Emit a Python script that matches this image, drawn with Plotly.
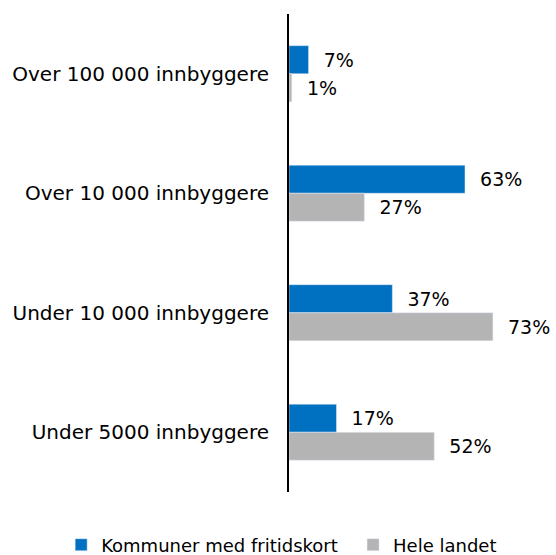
import plotly.graph_objects as go

categories = ["Over 100 000 innbyggere", "Over 10 000 innbyggere",
              "Under 10 000 innbyggere", "Under 5000 innbyggere"]
fritidskort = [7, 63, 37, 17]
hele_landet = [1, 27, 73, 52]

FONT = "DejaVu Sans"
fig = go.Figure()
fig.add_trace(go.Bar(
    y=categories, x=fritidskort, orientation="h", name="Kommuner med fritidskort",
    marker=dict(color="#0070C0"), legend="legend",
    texttemplate="\u00a0\u00a0%{x}%", textposition="outside",
    textfont=dict(family=FONT, size=19, color="#000000"), cliponaxis=False,
))
fig.add_trace(go.Bar(
    y=categories, x=hele_landet, orientation="h", name="Hele landet",
    marker=dict(color="#B4B4B5"), legend="legend2",
    texttemplate="\u00a0\u00a0%{x}%", textposition="outside",
    textfont=dict(family=FONT, size=19, color="#000000"), cliponaxis=False,
))
leg_common = dict(orientation="h", xref="container", yref="container",
                  xanchor="left", y=0.018, yanchor="middle",
                  font=dict(family=FONT, size=18), itemwidth=30,
                  bgcolor="rgba(0,0,0,0)")
fig.update_layout(
    width=556, height=555,
    margin=dict(l=289, r=10, t=14, b=63, autoexpand=False),
    barmode="group", bargap=0.53, bargroupgap=0,
    plot_bgcolor="white", paper_bgcolor="white",
    font=dict(family=FONT, size=20, color="#000000"),
    showlegend=True,
    legend=dict(x=0.11, **leg_common),
    legend2=dict(x=0.635, **leg_common),
)
fig.update_xaxes(range=[0, 92], showgrid=False, showticklabels=False, zeroline=False,
                 showline=False, automargin=False)
fig.update_yaxes(autorange="reversed", showline=True, linecolor="#000000", linewidth=2,
                 ticks="", ticklabelstandoff=14, tickfont=dict(family=FONT, size=20),
                 showgrid=False, automargin=False)
fig.write_html(
    "out.html",
    config={"displayModeBar": False},
    post_script="document.body.style.margin='0';document.body.style.overflow='hidden';",
)
